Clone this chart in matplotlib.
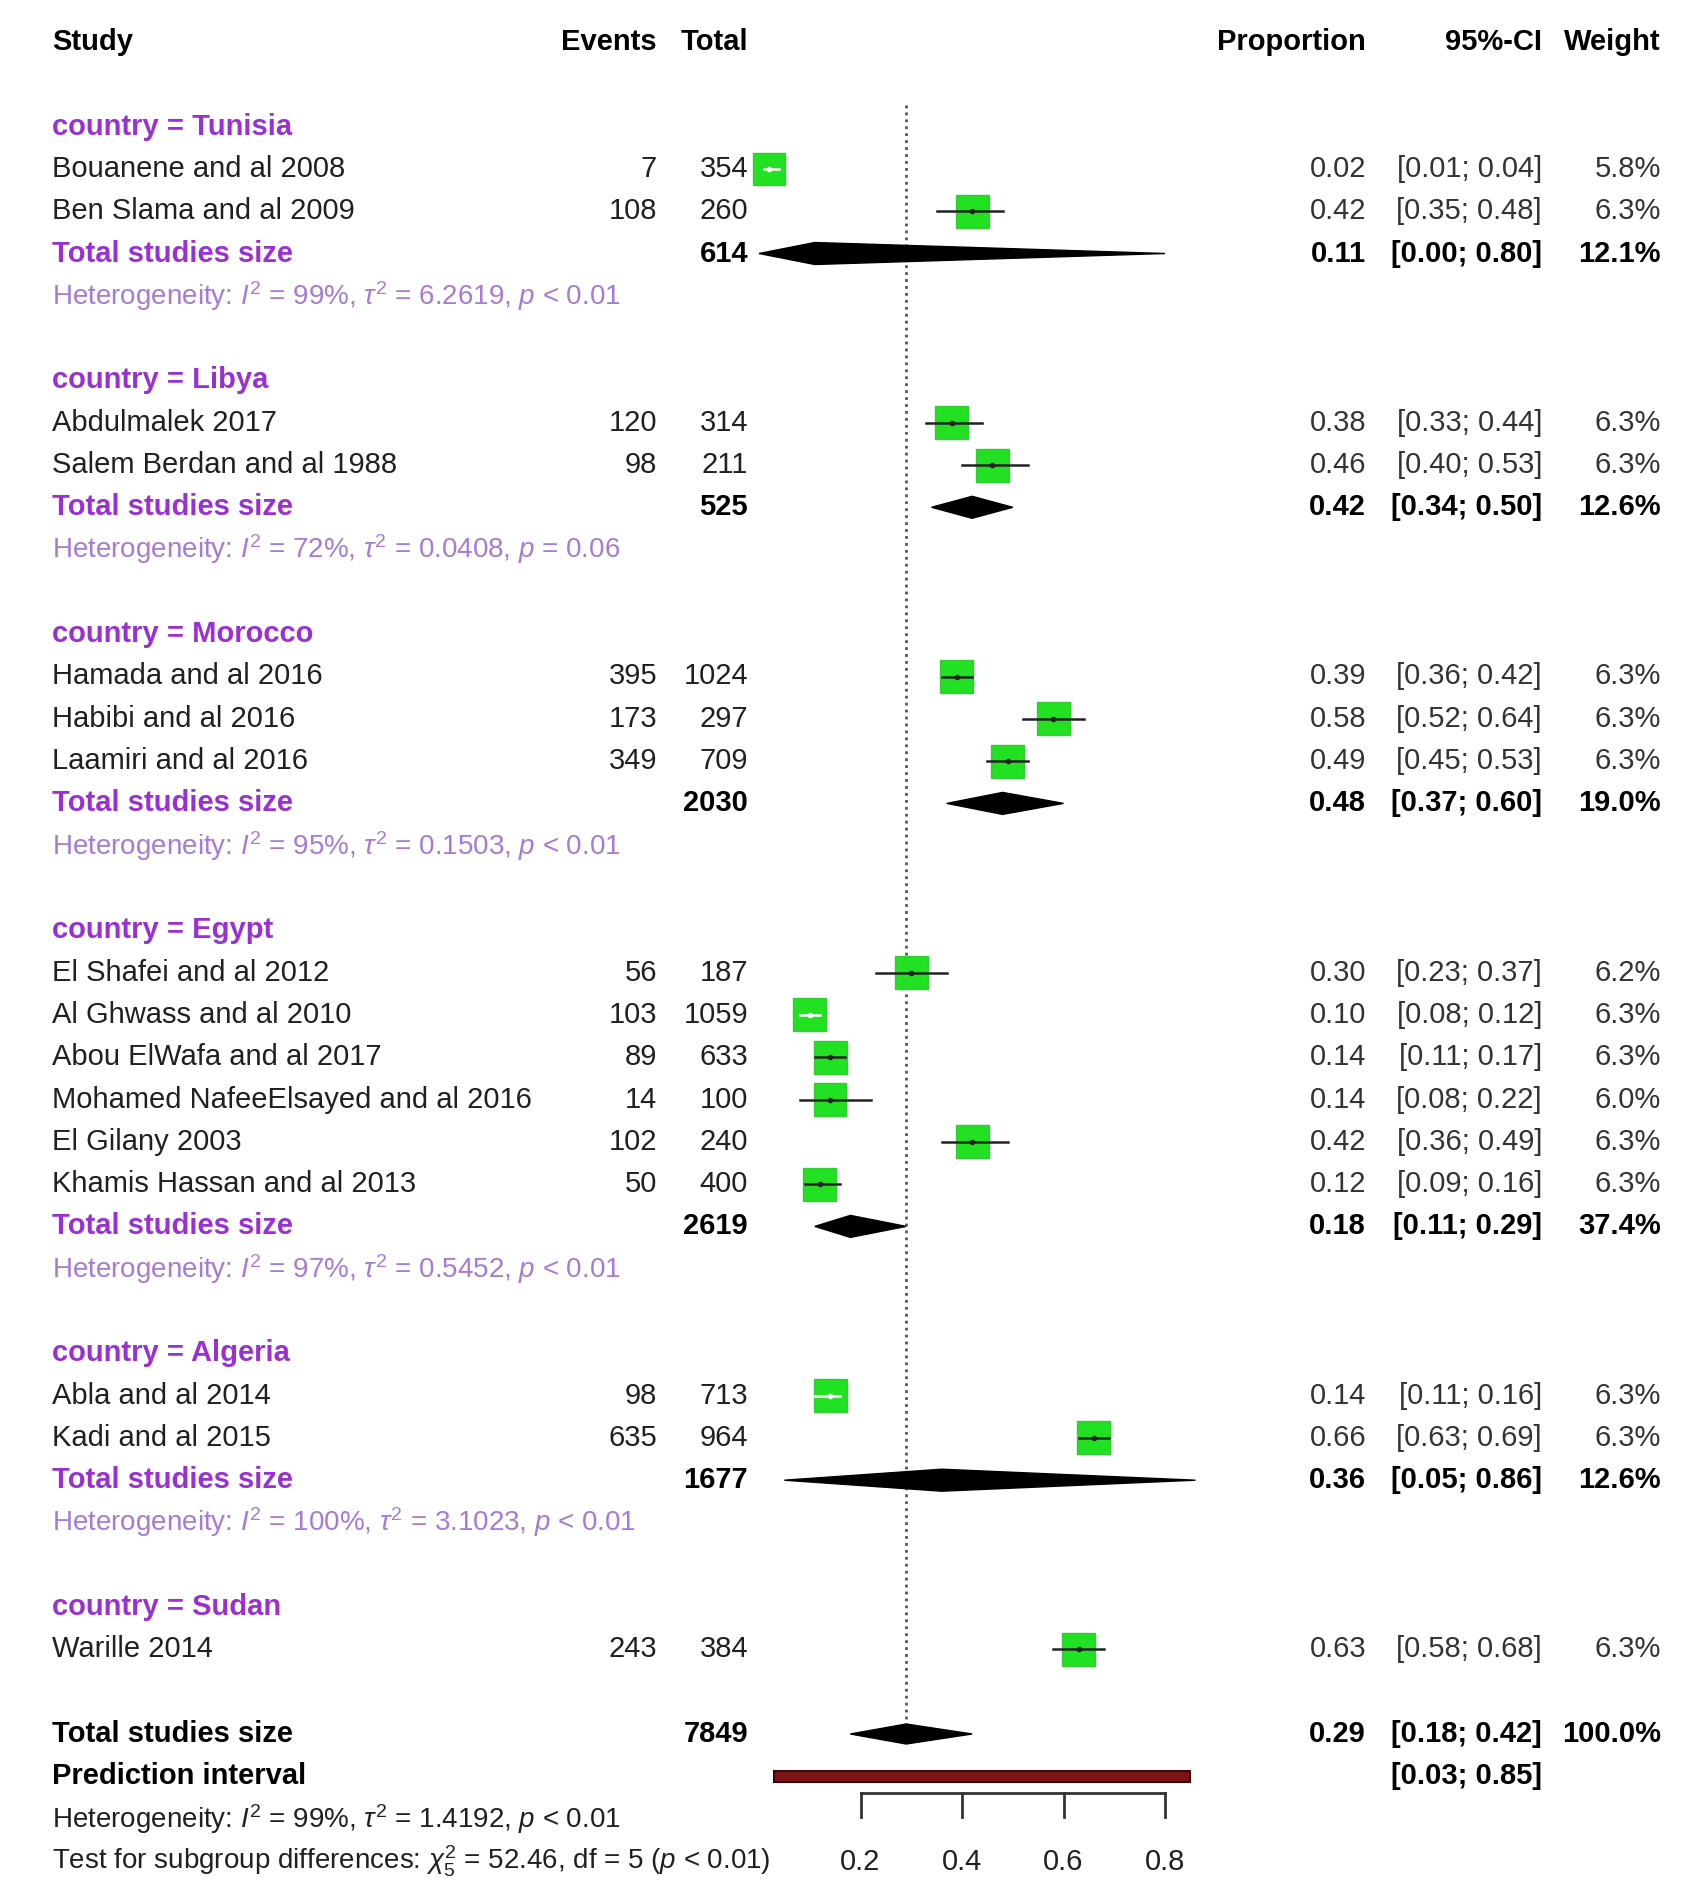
import matplotlib.pyplot as plt
from matplotlib.patches import Rectangle, Polygon
import numpy as np

plt.rcParams['font.family'] = ['Liberation Sans', 'DejaVu Sans']
plt.rcParams['mathtext.fontset'] = 'custom'
plt.rcParams['mathtext.rm'] = 'Liberation Sans'
plt.rcParams['mathtext.it'] = 'Liberation Sans:italic'
plt.rcParams['mathtext.bf'] = 'Liberation Sans:bold'

# data
countries = ["Tunisia", "Libya", "Morocco", "Egypt", "Algeria", "Sudan"]
study_country = ["Tunisia", "Tunisia", "Libya", "Libya", "Morocco", "Morocco", "Morocco",
                 "Egypt", "Egypt", "Egypt", "Egypt", "Egypt", "Egypt",
                 "Algeria", "Algeria", "Sudan"]
studies = ["Bouanene and al 2008", "Ben Slama and al 2009",
           "Abdulmalek 2017", "Salem Berdan and al 1988",
           "Hamada and al 2016", "Habibi and al 2016", "Laamiri and al 2016",
           "El Shafei and al 2012", "Al Ghwass and al 2010", "Abou ElWafa and al 2017",
           "Mohamed NafeeElsayed and al 2016", "El Gilany 2003", "Khamis Hassan and al 2013",
           "Abla and al 2014", "Kadi and al 2015", "Warille 2014"]
events = [7, 108, 120, 98, 395, 173, 349, 56, 103, 89, 14, 102, 50, 98, 635, 243]
totals = [354, 260, 314, 211, 1024, 297, 709, 187, 1059, 633, 100, 240, 400, 713, 964, 384]
prop = [0.02, 0.42, 0.38, 0.46, 0.39, 0.58, 0.49, 0.30, 0.10, 0.14, 0.14, 0.42, 0.12, 0.14, 0.66, 0.63]
ci_lo = [0.01, 0.35, 0.33, 0.40, 0.36, 0.52, 0.45, 0.23, 0.08, 0.11, 0.08, 0.36, 0.09, 0.11, 0.63, 0.58]
ci_hi = [0.04, 0.48, 0.44, 0.53, 0.42, 0.64, 0.53, 0.37, 0.12, 0.17, 0.22, 0.49, 0.16, 0.16, 0.69, 0.68]
weight = [5.8, 6.3, 6.3, 6.3, 6.3, 6.3, 6.3, 6.2, 6.3, 6.3, 6.0, 6.3, 6.3, 6.3, 6.3, 6.3]

grp_n = [614, 525, 2030, 2619, 1677]
grp_est = [0.11, 0.42, 0.48, 0.18, 0.36]
grp_lo = [0.00, 0.34, 0.37, 0.11, 0.05]
grp_hi = [0.80, 0.50, 0.60, 0.29, 0.86]
grp_w = [12.1, 12.6, 19.0, 37.4, 12.6]
grp_i2 = ["99%", "72%", "95%", "97%", "100%"]
grp_tau2 = ["6.2619", "0.0408", "0.1503", "0.5452", "3.1023"]
grp_p = ["< 0.01", "= 0.06", "< 0.01", "< 0.01", "< 0.01"]

total_n = 7849
overall_est, overall_lo, overall_hi = 0.29, 0.18, 0.42
pred_lo, pred_hi = 0.03, 0.85
overall_i2, overall_tau2 = "99%", "1.4192"
chi2, chi_df = "52.46", 5
ticks = [0.2, 0.4, 0.6, 0.8]

# figure in pixel-ish layout
W, H = 1701, 1895
x0, xs = 759, 507.5       # pixel of proportion 0, pixels per unit
y0, ys = 42, 42.3         # pixel of row 0, pixels per row
fig = plt.figure(figsize=(W / 100, H / 100), dpi=100)
ax = fig.add_axes([0, 0, 1, 1])
ax.set_xlim(-x0 / xs, (W - x0) / xs)
ax.set_ylim((H - y0) / ys, -y0 / ys)
ax.axis('off')
tr = ax.get_yaxis_transform()

FS = 21
c_study, c_ev, c_tot = 52 / W, 657 / W, 748 / W
c_prop, c_ci, c_w = 1366 / W, 1542 / W, 1661 / W
purple = '#9a30d2'
het_col = '#a77ad6'
txt = '#202020'
green = '#22e022'


def row_text(r, name, ev, tot, p, lo, hi, w, bold=False, color=txt, ncolor=txt):
    fw = 'bold' if bold else 'normal'
    ax.text(c_study, r, name, transform=tr, ha='left', va='center', fontsize=FS,
            color=color, fontweight=fw)
    if ev is not None:
        ax.text(c_ev, r, str(ev), transform=tr, ha='right', va='center', fontsize=FS, color=ncolor)
    if tot is not None:
        ax.text(c_tot, r, str(tot), transform=tr, ha='right', va='center', fontsize=FS,
                color='black' if bold else ncolor, fontweight=fw)
    rc = 'black' if bold else '#333333'
    if p is not None:
        ax.text(c_prop, r, f"{p:.2f}", transform=tr, ha='right', va='center', fontsize=FS,
                color=rc, fontweight=fw)
    if lo is not None:
        ax.text(c_ci, r, f"[{lo:.2f}; {hi:.2f}]", transform=tr, ha='right', va='center',
                fontsize=FS, color=rc, fontweight=fw)
    if w is not None:
        ax.text(c_w, r, f"{w:.1f}%", transform=tr, ha='right', va='center', fontsize=FS,
                color=rc, fontweight=fw)


def square(r, p, lo, hi, w):
    k = np.sqrt(w / 6.3)
    bw, bh = 33 / xs * k, 33 / ys * k
    ax.add_patch(Rectangle((p - bw / 2, r - bh / 2), bw, bh, facecolor=green,
                           edgecolor='#33cc33', lw=1, zorder=3))
    # R draws the CI in white when it is much narrower than the box
    lc = 'white' if (hi - lo) * xs < 28 else '#222222'
    ax.plot([lo, hi], [r, r], color=lc, lw=1.8, zorder=4)
    ax.plot([p], [r], marker='o', ms=3, color=lc, zorder=5)


def diamond(r, est, lo, hi, hh=11):
    dh = hh / ys
    ax.add_patch(Polygon([(lo, r), (est, r - dh), (hi, r), (est, r + dh)],
                         closed=True, facecolor='black', edgecolor='black', lw=1, zorder=3))


# headers
hdr = dict(transform=tr, va='center', fontsize=FS, fontweight='bold', color='black')
ax.text(c_study, 0, "Study", ha='left', **hdr)
ax.text(c_ev, 0, "Events", ha='right', **hdr)
ax.text(c_tot, 0, "Total", ha='right', **hdr)
ax.text(c_prop, 0, "Proportion", ha='right', **hdr)
ax.text(c_ci, 0, "95%-CI", ha='right', **hdr)
ax.text(c_w, 0, "Weight", ha='right', **hdr)

r = 2
for gi, cty in enumerate(countries):
    ax.text(c_study, r, f"country = {cty}", transform=tr, ha='left', va='center',
            fontsize=FS, fontweight='bold', color=purple)
    r += 1
    for i, s in enumerate(studies):
        if study_country[i] != cty:
            continue
        row_text(r, s, events[i], totals[i], prop[i], ci_lo[i], ci_hi[i], weight[i])
        square(r, prop[i], ci_lo[i], ci_hi[i], weight[i])
        r += 1
    if gi < len(grp_n):
        row_text(r, "Total studies size", None, grp_n[gi], grp_est[gi], grp_lo[gi],
                 grp_hi[gi], grp_w[gi], bold=True, color=purple)
        diamond(r, grp_est[gi], grp_lo[gi], grp_hi[gi])
        r += 1
        ax.text(c_study, r, f"Heterogeneity: $I^2$ = {grp_i2[gi]}, $\\tau^2$ = {grp_tau2[gi]}, $p$ {grp_p[gi]}",
                transform=tr, ha='left', va='center', fontsize=FS - 1, color=het_col)
        r += 2
    else:
        r += 1

# overall
row_text(r, "Total studies size", None, total_n, overall_est, overall_lo, overall_hi,
         100.0, bold=True, color='black')
diamond(r, overall_est, overall_lo, overall_hi, hh=10)
r_total = r
r += 1
ax.text(c_study, r, "Prediction interval", transform=tr, ha='left', va='center',
        fontsize=FS, fontweight='bold', color='black')
ax.text(c_ci, r, f"[{pred_lo:.2f}; {pred_hi:.2f}]", transform=tr, ha='right', va='center',
        fontsize=FS, fontweight='bold', color='black')
ph = 11 / ys
ax.add_patch(Rectangle((pred_lo, r - ph / 2), pred_hi - pred_lo, ph, facecolor='#801414',
                       edgecolor='#3a0808', lw=1.5, zorder=3))
r += 1
ax.text(c_study, r, f"Heterogeneity: $I^2$ = {overall_i2}, $\\tau^2$ = {overall_tau2}, $p$ < 0.01",
        transform=tr, ha='left', va='center', fontsize=FS - 1, color=txt)
r += 1
ax.text(c_study, r, f"Test for subgroup differences: $\\chi^2_{chi_df}$ = {chi2}, df = {chi_df} ($p$ < 0.01)",
        transform=tr, ha='left', va='center', fontsize=FS - 1, color=txt)

# reference line
ax.plot([overall_est, overall_est], [1.5, r_total - 10 / ys], color='#555555', lw=2,
        linestyle=(0, (1, 1.5)), zorder=1)

# x axis
ya = (1793 - y0) / ys
yt = (1817 - y0) / ys
yl = (1862 - y0) / ys
ax.plot([ticks[0], ticks[-1]], [ya, ya], color='#333333', lw=2)
for t in ticks:
    ax.plot([t, t], [ya, yt], color='#333333', lw=2)
    ax.text(t, yl, f"{t:.1f}", ha='center', va='center', fontsize=FS, color=txt)

fig.savefig("out.png", dpi=100, facecolor='white')
